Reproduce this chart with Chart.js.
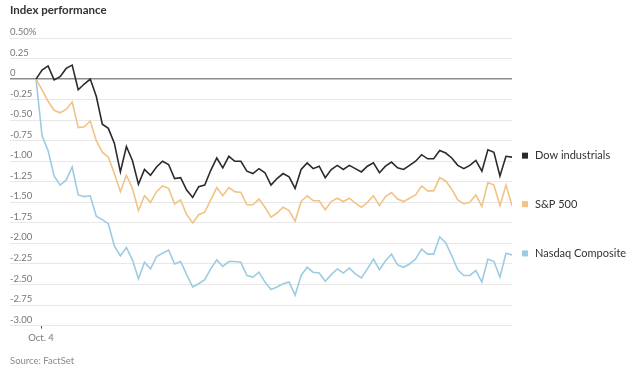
<!DOCTYPE html>
<html lang="en">
<head>
<meta charset="UTF-8">
<title>Index performance</title>
<style>
    body {
        margin: 0;
        background: #ffffff;
        font-family: Lato, Arial, sans-serif;
    }
    .wrap {
        position: relative;
        width: 630px;
        height: 378px;
    }
    #chart {
        position: absolute;
        left: 0;
        top: 0;
    }
    .title {
        position: absolute;
        left: 10px;
        top: 3px;
        font-size: 11.5px;
        font-weight: bold;
        color: #333333;
    }
    .source {
        position: absolute;
        left: 10px;
        top: 355px;
        font-size: 9.5px;
        color: #8a8a8a;
    }
</style>
</head>
<body>
<div class="wrap">
    <canvas id="chart" width="630" height="378"></canvas>
    <div class="title">Index performance</div>
    <div class="source">Source: FactSet</div>
</div>

<script src="https://cdn.jsdelivr.net/npm/chart.js"></script>
<script>
    // intraday % change, one value per interval
    const dow = [0, 0.11, 0.16, -0.01, 0.03, 0.13, 0.17, -0.13, -0.06, 0.00,
        -0.21, -0.55, -0.60, -0.78, -1.13, -0.82, -0.99, -1.28, -1.10, -1.17,
        -1.07, -1.00, -1.04, -1.21, -1.20, -1.35, -1.44, -1.31, -1.29, -1.11,
        -0.96, -1.08, -0.94, -1.00, -1.00, -1.12, -1.15, -1.09, -1.14, -1.29,
        -1.21, -1.15, -1.19, -1.33, -1.10, -1.02, -1.09, -1.06, -1.20, -1.10,
        -1.05, -1.10, -1.05, -1.09, -1.13, -1.06, -1.02, -1.14, -1.06, -1.01,
        -1.08, -1.10, -1.05, -1.00, -0.92, -0.97, -0.97, -0.87, -0.90, -0.96,
        -1.05, -1.09, -1.05, -0.99, -1.12, -0.86, -0.89, -1.18, -0.94, -0.95];
    const sp500 = [0, -0.13, -0.27, -0.38, -0.41, -0.37, -0.28, -0.59, -0.58, -0.51,
        -0.75, -0.89, -0.95, -1.15, -1.37, -1.17, -1.33, -1.60, -1.42, -1.50,
        -1.37, -1.30, -1.33, -1.52, -1.47, -1.65, -1.75, -1.65, -1.62, -1.47,
        -1.32, -1.42, -1.32, -1.37, -1.38, -1.53, -1.53, -1.46, -1.56, -1.68,
        -1.63, -1.56, -1.60, -1.73, -1.49, -1.42, -1.48, -1.48, -1.59, -1.49,
        -1.45, -1.49, -1.45, -1.51, -1.56, -1.50, -1.42, -1.54, -1.43, -1.38,
        -1.46, -1.49, -1.45, -1.41, -1.30, -1.36, -1.36, -1.20, -1.24, -1.34,
        -1.47, -1.52, -1.50, -1.41, -1.55, -1.26, -1.29, -1.54, -1.29, -1.54];
    const nasdaq = [0, -0.69, -0.87, -1.18, -1.29, -1.23, -1.07, -1.41, -1.43, -1.42,
        -1.67, -1.71, -1.76, -2.03, -2.15, -2.05, -2.20, -2.43, -2.23, -2.31,
        -2.16, -2.12, -2.08, -2.25, -2.22, -2.38, -2.53, -2.49, -2.44, -2.31,
        -2.20, -2.28, -2.22, -2.22, -2.23, -2.39, -2.41, -2.35, -2.47, -2.56,
        -2.53, -2.49, -2.47, -2.63, -2.39, -2.29, -2.35, -2.36, -2.46, -2.38,
        -2.31, -2.36, -2.30, -2.37, -2.42, -2.31, -2.19, -2.32, -2.21, -2.13,
        -2.26, -2.29, -2.25, -2.19, -2.07, -2.13, -2.13, -1.92, -1.99, -2.15,
        -2.32, -2.39, -2.39, -2.33, -2.47, -2.19, -2.22, -2.41, -2.12, -2.14];

    const seriesNames = ['Dow industrials', 'S&P 500', 'Nasdaq Composite'];
    const xTickLabels = ['Oct. 4'];
    const xTickPositions = [0.83];

    const colors = {
        dow: '#2b2b2b',
        sp: '#f2c385',
        nasdaq: '#9dcbe2',
        grid: '#e8e8e8',
        zero: '#8c8c8c',
        text: '#777777'
    };

    const toPoints = arr => arr.map((v, i) => ({ x: i, y: v }));

    Chart.defaults.font.family = 'Lato, Arial, sans-serif';

    // names drawn next to where each line ends
    const endLabels = {
        id: 'endLabels',
        afterDatasetsDraw(chart) {
            const ctx = chart.ctx;
            const yScale = chart.scales.y;
            const left = chart.chartArea.right + 10;
            ctx.save();
            ctx.font = '11px Lato, Arial, sans-serif';
            ctx.textBaseline = 'middle';
            chart.data.datasets.forEach(ds => {
                const last = ds.data[ds.data.length - 1].y;
                const y = yScale.getPixelForValue(last) - 1.5;
                ctx.fillStyle = ds.borderColor;
                ctx.fillRect(left, y - 3, 6, 6);
                ctx.fillStyle = '#333333';
                ctx.fillText(ds.label, left + 13, y);
            });
            ctx.restore();
        }
    };

    const chart = new Chart(document.getElementById('chart'), {
        type: 'line',
        data: {
            datasets: [
                { label: seriesNames[0], data: toPoints(dow), borderColor: colors.dow, borderWidth: 1.6 },
                { label: seriesNames[1], data: toPoints(sp500), borderColor: colors.sp, borderWidth: 1.6 },
                { label: seriesNames[2], data: toPoints(nasdaq), borderColor: colors.nasdaq, borderWidth: 1.6 }
            ]
        },
        options: {
            responsive: false,
            animation: false,
            layout: { padding: { left: 10, right: 118, top: 38, bottom: 30 } },
            elements: { point: { radius: 0 }, line: { tension: 0 } },
            plugins: { legend: { display: false }, tooltip: { enabled: false } },
            scales: {
                x: {
                    type: 'linear',
                    min: -4.32,
                    max: 79,
                    border: { display: false },
                    grid: { drawOnChartArea: false, drawTicks: true, tickLength: 3, color: '#555555' },
                    afterBuildTicks: axis => { axis.ticks = xTickPositions.map(v => ({ value: v })); },
                    ticks: {
                        autoSkip: false,
                        maxRotation: 0,
                        padding: 4,
                        color: colors.text,
                        font: { size: 9.5 },
                        callback: (v, i) => xTickLabels[i]
                    }
                },
                y: {
                    min: -3,
                    max: 0.5,
                    border: { display: false },
                    grid: {
                        drawTicks: false,
                        color: c => c.tick && c.tick.value === 0 ? colors.zero : colors.grid,
                        lineWidth: c => c.tick && c.tick.value === 0 ? 1.5 : 1
                    },
                    ticks: {
                        stepSize: 0.25,
                        mirror: true,
                        padding: 0,
                        labelOffset: -6,
                        color: colors.text,
                        font: { size: 9.5 },
                        callback: v => v === 0.5 ? '0.50%' : (v === 0 ? '0' : v.toFixed(2))
                    }
                }
            }
        },
        plugins: [endLabels]
    });
</script>
</body>
</html>
